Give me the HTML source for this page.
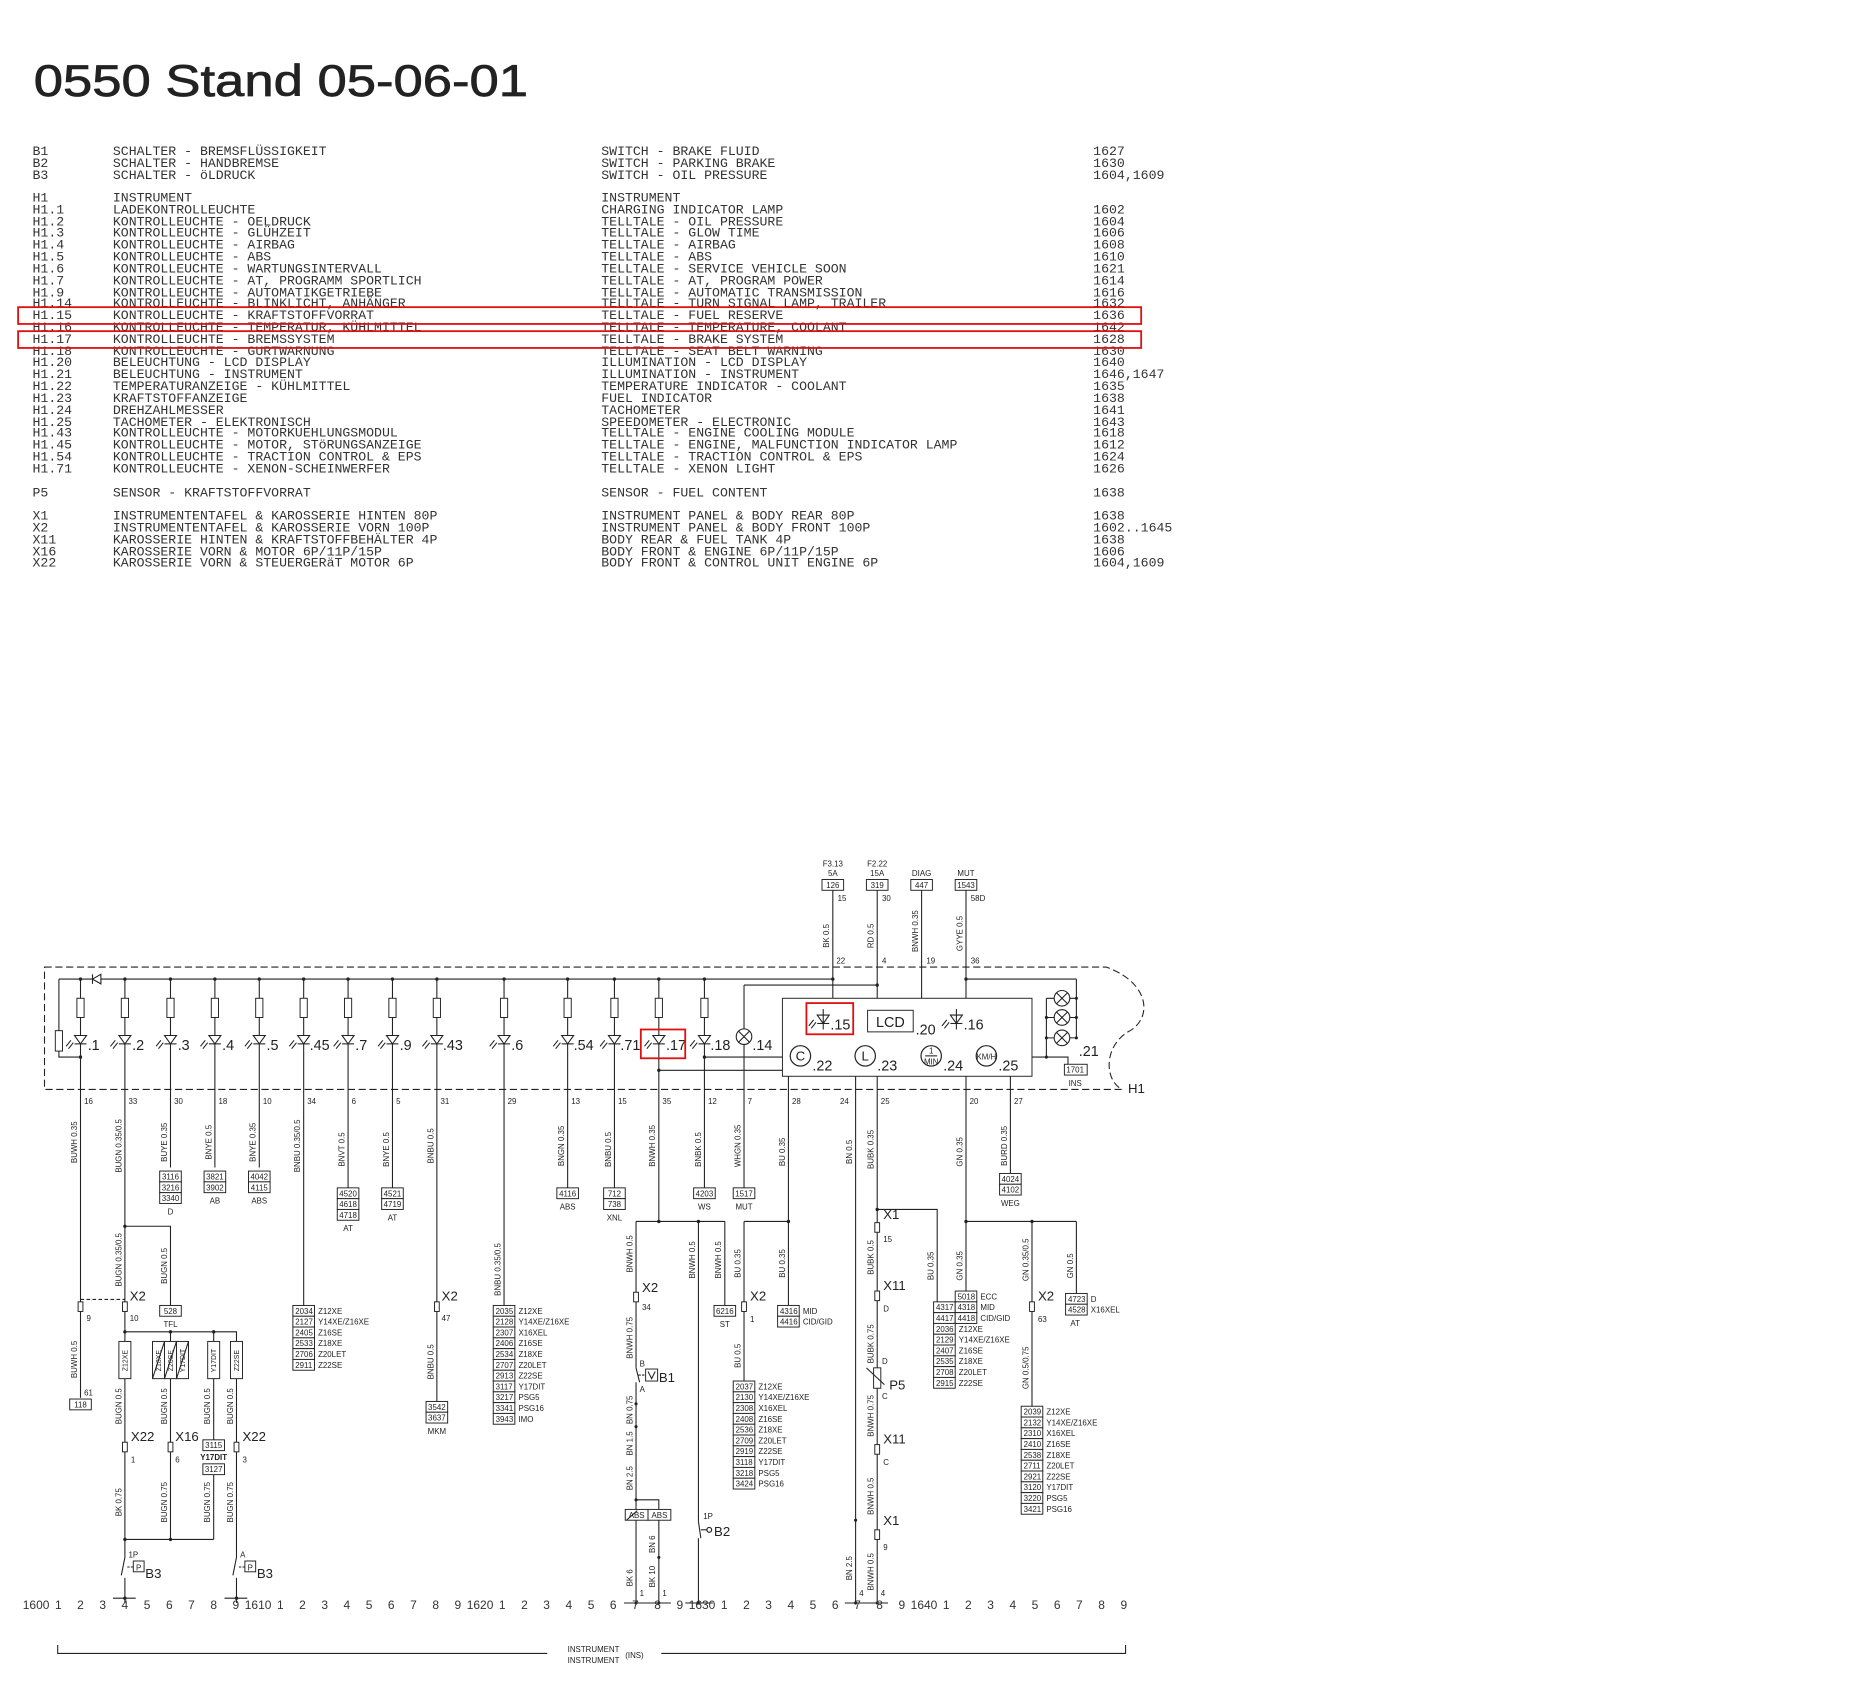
<!DOCTYPE html>
<html><head><meta charset="utf-8"><style>
html,body{margin:0;padding:0;background:#fff}
svg{display:block}
.t{font-family:"Liberation Mono",monospace;font-size:11px;fill:#333}
.d{font-family:"Liberation Sans",sans-serif;fill:#222}
.s{font-size:6.6px}
.m{font-size:11px}
.l{font-size:12px}
.v{font-size:6.6px;text-anchor:middle}
line,polyline,path{stroke:#222;stroke-width:0.9;fill:none}
rect.b{fill:#fff;stroke:#222;stroke-width:0.8}
</style></head><body>
<svg width="1872" height="1693" viewBox="0 0 1560 1411" xmlns="http://www.w3.org/2000/svg">
<defs>
<g id="led"><polygon points="-5,-4 5,-4 0,3" fill="#fff" stroke="#222" stroke-width="0.9"/><line x1="-5" y1="3" x2="5" y2="3"/><line x1="-12" y1="5" x2="-8" y2="0"/><line x1="-10" y1="7" x2="-6" y2="2"/></g>
<g id="lamp"><circle cx="0" cy="0" r="6.5" fill="#fff" stroke="#222" stroke-width="0.9"/><line x1="-4.6" y1="-4.6" x2="4.6" y2="4.6"/><line x1="-4.6" y1="4.6" x2="4.6" y2="-4.6"/></g>
<g id="con"><rect x="-2" y="-5" width="4" height="8" fill="#fff" stroke="#222" stroke-width="0.8"/></g>
</defs>

<text x="28" y="80" class="d" style="font-size:37px;stroke:#222;stroke-width:0.6" textLength="412" lengthAdjust="spacingAndGlyphs">0550 Stand 05-06-01</text>

<g class="t">
<text x="27" y="129">B1</text><text x="94" y="129">SCHALTER - BREMSFLÜSSIGKEIT</text><text x="501" y="129">SWITCH - BRAKE FLUID</text><text x="911" y="129">1627</text>
<text x="27" y="139">B2</text><text x="94" y="139">SCHALTER - HANDBREMSE</text><text x="501" y="139">SWITCH - PARKING BRAKE</text><text x="911" y="139">1630</text>
<text x="27" y="149">B3</text><text x="94" y="149">SCHALTER - öLDRUCK</text><text x="501" y="149">SWITCH - OIL PRESSURE</text><text x="911" y="149">1604,1609</text>
<text x="27" y="168">H1</text><text x="94" y="168">INSTRUMENT</text><text x="501" y="168">INSTRUMENT</text>
<text x="27" y="178">H1.1</text><text x="94" y="178">LADEKONTROLLEUCHTE</text><text x="501" y="178">CHARGING INDICATOR LAMP</text><text x="911" y="178">1602</text>
<text x="27" y="188">H1.2</text><text x="94" y="188">KONTROLLEUCHTE - OELDRUCK</text><text x="501" y="188">TELLTALE - OIL PRESSURE</text><text x="911" y="188">1604</text>
<text x="27" y="197">H1.3</text><text x="94" y="197">KONTROLLEUCHTE - GLÜHZEIT</text><text x="501" y="197">TELLTALE - GLOW TIME</text><text x="911" y="197">1606</text>
<text x="27" y="207">H1.4</text><text x="94" y="207">KONTROLLEUCHTE - AIRBAG</text><text x="501" y="207">TELLTALE - AIRBAG</text><text x="911" y="207">1608</text>
<text x="27" y="217">H1.5</text><text x="94" y="217">KONTROLLEUCHTE - ABS</text><text x="501" y="217">TELLTALE - ABS</text><text x="911" y="217">1610</text>
<text x="27" y="227">H1.6</text><text x="94" y="227">KONTROLLEUCHTE - WARTUNGSINTERVALL</text><text x="501" y="227">TELLTALE - SERVICE VEHICLE SOON</text><text x="911" y="227">1621</text>
<text x="27" y="237">H1.7</text><text x="94" y="237">KONTROLLEUCHTE - AT, PROGRAMM SPORTLICH</text><text x="501" y="237">TELLTALE - AT, PROGRAM POWER</text><text x="911" y="237">1614</text>
<text x="27" y="247">H1.9</text><text x="94" y="247">KONTROLLEUCHTE - AUTOMATIKGETRIEBE</text><text x="501" y="247">TELLTALE - AUTOMATIC TRANSMISSION</text><text x="911" y="247">1616</text>
<text x="27" y="256">H1.14</text><text x="94" y="256">KONTROLLEUCHTE - BLINKLICHT, ANHÄNGER</text><text x="501" y="256">TELLTALE - TURN SIGNAL LAMP, TRAILER</text><text x="911" y="256">1632</text>
<text x="27" y="266">H1.15</text><text x="94" y="266">KONTROLLEUCHTE - KRAFTSTOFFVORRAT</text><text x="501" y="266">TELLTALE - FUEL RESERVE</text><text x="911" y="266">1636</text>
<text x="27" y="276">H1.16</text><text x="94" y="276">KONTROLLEUCHTE - TEMPERATUR, KÜHLMITTEL</text><text x="501" y="276">TELLTALE - TEMPERATURE, COOLANT</text><text x="911" y="276">1642</text>
<text x="27" y="286">H1.17</text><text x="94" y="286">KONTROLLEUCHTE - BREMSSYSTEM</text><text x="501" y="286">TELLTALE - BRAKE SYSTEM</text><text x="911" y="286">1628</text>
<text x="27" y="296">H1.18</text><text x="94" y="296">KONTROLLEUCHTE - GURTWARNUNG</text><text x="501" y="296">TELLTALE - SEAT BELT WARNING</text><text x="911" y="296">1630</text>
<text x="27" y="305">H1.20</text><text x="94" y="305">BELEUCHTUNG - LCD DISPLAY</text><text x="501" y="305">ILLUMINATION - LCD DISPLAY</text><text x="911" y="305">1640</text>
<text x="27" y="315">H1.21</text><text x="94" y="315">BELEUCHTUNG - INSTRUMENT</text><text x="501" y="315">ILLUMINATION - INSTRUMENT</text><text x="911" y="315">1646,1647</text>
<text x="27" y="325">H1.22</text><text x="94" y="325">TEMPERATURANZEIGE - KÜHLMITTEL</text><text x="501" y="325">TEMPERATURE INDICATOR - COOLANT</text><text x="911" y="325">1635</text>
<text x="27" y="335">H1.23</text><text x="94" y="335">KRAFTSTOFFANZEIGE</text><text x="501" y="335">FUEL INDICATOR</text><text x="911" y="335">1638</text>
<text x="27" y="345">H1.24</text><text x="94" y="345">DREHZAHLMESSER</text><text x="501" y="345">TACHOMETER</text><text x="911" y="345">1641</text>
<text x="27" y="355">H1.25</text><text x="94" y="355">TACHOMETER - ELEKTRONISCH</text><text x="501" y="355">SPEEDOMETER - ELECTRONIC</text><text x="911" y="355">1643</text>
<text x="27" y="364">H1.43</text><text x="94" y="364">KONTROLLEUCHTE - MOTORKUEHLUNGSMODUL</text><text x="501" y="364">TELLTALE - ENGINE COOLING MODULE</text><text x="911" y="364">1618</text>
<text x="27" y="374">H1.45</text><text x="94" y="374">KONTROLLEUCHTE - MOTOR, STöRUNGSANZEIGE</text><text x="501" y="374">TELLTALE - ENGINE, MALFUNCTION INDICATOR LAMP</text><text x="911" y="374">1612</text>
<text x="27" y="384">H1.54</text><text x="94" y="384">KONTROLLEUCHTE - TRACTION CONTROL &amp; EPS</text><text x="501" y="384">TELLTALE - TRACTION CONTROL &amp; EPS</text><text x="911" y="384">1624</text>
<text x="27" y="394">H1.71</text><text x="94" y="394">KONTROLLEUCHTE - XENON-SCHEINWERFER</text><text x="501" y="394">TELLTALE - XENON LIGHT</text><text x="911" y="394">1626</text>
<text x="27" y="414">P5</text><text x="94" y="414">SENSOR - KRAFTSTOFFVORRAT</text><text x="501" y="414">SENSOR - FUEL CONTENT</text><text x="911" y="414">1638</text>
<text x="27" y="433">X1</text><text x="94" y="433">INSTRUMENTENTAFEL &amp; KAROSSERIE HINTEN 80P</text><text x="501" y="433">INSTRUMENT PANEL &amp; BODY REAR 80P</text><text x="911" y="433">1638</text>
<text x="27" y="443">X2</text><text x="94" y="443">INSTRUMENTENTAFEL &amp; KAROSSERIE VORN 100P</text><text x="501" y="443">INSTRUMENT PANEL &amp; BODY FRONT 100P</text><text x="911" y="443">1602..1645</text>
<text x="27" y="453">X11</text><text x="94" y="453">KAROSSERIE HINTEN &amp; KRAFTSTOFFBEHÄLTER 4P</text><text x="501" y="453">BODY REAR &amp; FUEL TANK 4P</text><text x="911" y="453">1638</text>
<text x="27" y="463">X16</text><text x="94" y="463">KAROSSERIE VORN &amp; MOTOR  6P/11P/15P</text><text x="501" y="463">BODY FRONT &amp; ENGINE 6P/11P/15P</text><text x="911" y="463">1606</text>
<text x="27" y="472">X22</text><text x="94" y="472">KAROSSERIE VORN &amp; STEUERGERäT MOTOR 6P</text><text x="501" y="472">BODY FRONT &amp; CONTROL UNIT ENGINE 6P</text><text x="911" y="472">1604,1609</text>
</g>
<rect x="15" y="256" width="936" height="14" fill="none" stroke="#e01010" stroke-width="1.5"/>
<rect x="15" y="276" width="936" height="14" fill="none" stroke="#e01010" stroke-width="1.5"/>

<g class="d">
<path d="M37,806 L922,806 C960,820 960,850 940,860 C920,872 920,900 935,908 L37,908 Z" style="stroke-dasharray:6,3"/>
<text x="940" y="911" class="m">H1</text>

<line x1="49" y1="816" x2="694" y2="816"/>
<line x1="805" y1="816" x2="897" y2="816"/>
<line x1="620" y1="821" x2="731" y2="821"/>
<polygon points="77,816 84,812 84,820" fill="#fff" stroke="#222" stroke-width="0.9"/><line x1="77" y1="812" x2="77" y2="820"/>
<line x1="49" y1="816" x2="49" y2="859"/><rect class="b" x="46" y="859" width="6" height="17"/><polyline points="49,876 49,881 67,881"/><circle cx="67" cy="881" r="1.4" fill="#222"/>

<g>
<line x1="67" y1="816" x2="67" y2="1165"/>
<line x1="104" y1="816" x2="104" y2="1336"/>
<line x1="142" y1="816" x2="142" y2="973"/>
<line x1="179" y1="816" x2="179" y2="973"/>
<line x1="216" y1="816" x2="216" y2="973"/>
<line x1="253" y1="816" x2="253" y2="1088"/>
<line x1="290" y1="816" x2="290" y2="990"/>
<line x1="327" y1="816" x2="327" y2="990"/>
<line x1="364" y1="816" x2="364" y2="1168"/>
<line x1="420" y1="816" x2="420" y2="1088"/>
<line x1="473" y1="816" x2="473" y2="990"/>
<line x1="512" y1="816" x2="512" y2="990"/>
<line x1="549" y1="816" x2="549" y2="1018"/>
<line x1="587" y1="816" x2="587" y2="990"/>
<line x1="620" y1="821" x2="620" y2="990"/>
</g>
<g fill="#222">
<circle cx="67" cy="816" r="1.4"/><circle cx="104" cy="816" r="1.4"/><circle cx="142" cy="816" r="1.4"/><circle cx="179" cy="816" r="1.4"/><circle cx="216" cy="816" r="1.4"/><circle cx="253" cy="816" r="1.4"/><circle cx="290" cy="816" r="1.4"/><circle cx="327" cy="816" r="1.4"/><circle cx="364" cy="816" r="1.4"/><circle cx="420" cy="816" r="1.4"/><circle cx="473" cy="816" r="1.4"/><circle cx="512" cy="816" r="1.4"/><circle cx="549" cy="816" r="1.4"/><circle cx="587" cy="816" r="1.4"/><circle cx="694" cy="816" r="1.4"/><circle cx="805" cy="816" r="1.4"/><circle cx="731" cy="821" r="1.4"/>
</g>
<g>
<rect class="b" x="64" y="832" width="6" height="16"/><rect class="b" x="101" y="832" width="6" height="16"/><rect class="b" x="139" y="832" width="6" height="16"/><rect class="b" x="176" y="832" width="6" height="16"/><rect class="b" x="213" y="832" width="6" height="16"/><rect class="b" x="250" y="832" width="6" height="16"/><rect class="b" x="287" y="832" width="6" height="16"/><rect class="b" x="324" y="832" width="6" height="16"/><rect class="b" x="361" y="832" width="6" height="16"/><rect class="b" x="417" y="832" width="6" height="16"/><rect class="b" x="470" y="832" width="6" height="16"/><rect class="b" x="509" y="832" width="6" height="16"/><rect class="b" x="546" y="832" width="6" height="16"/><rect class="b" x="584" y="832" width="6" height="16"/>
</g>
<use href="#led" x="67" y="867"/><use href="#led" x="104" y="867"/><use href="#led" x="142" y="867"/><use href="#led" x="179" y="867"/><use href="#led" x="216" y="867"/><use href="#led" x="253" y="867"/><use href="#led" x="290" y="867"/><use href="#led" x="327" y="867"/><use href="#led" x="364" y="867"/><use href="#led" x="420" y="867"/><use href="#led" x="473" y="867"/><use href="#led" x="512" y="867"/><use href="#led" x="549" y="867"/><use href="#led" x="587" y="867"/>
<use href="#lamp" x="620" y="864"/>
<g class="l">
<text x="73" y="875">.1</text><text x="110" y="875">.2</text><text x="148" y="875">.3</text><text x="185" y="875">.4</text><text x="222" y="875">.5</text><text x="258" y="875">.45</text><text x="296" y="875">.7</text><text x="333" y="875">.9</text><text x="369" y="875">.43</text><text x="426" y="875">.6</text><text x="478" y="875">.54</text><text x="517" y="875">.71</text><text x="555" y="875">.17</text><text x="592" y="875">.18</text><text x="627" y="875">.14</text>
</g>
<rect x="534" y="858" width="37" height="24" fill="none" stroke="#e01010" stroke-width="1.5"/>
<line x1="587" y1="881" x2="652" y2="881"/><circle cx="587" cy="881" r="1.4" fill="#222"/>
<line x1="549" y1="892" x2="652" y2="892"/><circle cx="549" cy="892" r="1.4" fill="#222"/>

<g class="s">
<text x="70" y="920">16</text><text x="107" y="920">33</text><text x="145" y="920">30</text><text x="182" y="920">18</text><text x="219" y="920">10</text><text x="256" y="920">34</text><text x="293" y="920">6</text><text x="330" y="920">5</text><text x="367" y="920">31</text><text x="423" y="920">29</text><text x="476" y="920">13</text><text x="515" y="920">15</text><text x="552" y="920">35</text><text x="590" y="920">12</text><text x="623" y="920">7</text><text x="660" y="920">28</text><text x="700" y="920">24</text><text x="734" y="920">25</text><text x="808" y="920">20</text><text x="845" y="920">27</text>
</g>

<rect class="b" x="652" y="832" width="208" height="65"/>
<line x1="694" y1="742" x2="694" y2="832"/><line x1="731" y1="742" x2="731" y2="832"/><line x1="768" y1="742" x2="768" y2="832"/><line x1="805" y1="742" x2="805" y2="832"/>
<g class="s">
<rect class="b" x="685" y="733" width="18" height="9"/><text x="694" y="740" text-anchor="middle">126</text>
<rect class="b" x="722" y="733" width="18" height="9"/><text x="731" y="740" text-anchor="middle">319</text>
<rect class="b" x="759" y="733" width="18" height="9"/><text x="768" y="740" text-anchor="middle">447</text>
<rect class="b" x="796" y="733" width="18" height="9"/><text x="805" y="740" text-anchor="middle">1543</text>
<text x="694" y="722" text-anchor="middle">F3.13</text><text x="694" y="730" text-anchor="middle">5A</text>
<text x="731" y="722" text-anchor="middle">F2.22</text><text x="731" y="730" text-anchor="middle">15A</text>
<text x="768" y="730" text-anchor="middle">DIAG</text><text x="805" y="730" text-anchor="middle">MUT</text>
<text x="698" y="751">15</text><text x="735" y="751">30</text><text x="809" y="751">58D</text>
<text x="697" y="803">22</text><text x="735" y="803">4</text><text x="772" y="803">19</text><text x="809" y="803">36</text>
</g>
<g class="v">
<text transform="translate(691,780) rotate(-90)">BK 0.5</text>
<text transform="translate(728,780) rotate(-90)">RD 0.5</text>
<text transform="translate(765,776) rotate(-90)">BNWH 0.35</text>
<text transform="translate(802,778) rotate(-90)">GYYE 0.5</text>
</g>
<use href="#led" x="686" y="850"/><text x="692" y="858" class="l">.15</text>
<rect x="672" y="836" width="39" height="26" fill="none" stroke="#e01010" stroke-width="1.5"/>
<rect class="b" x="723" y="842" width="38" height="18"/><text x="742" y="856" class="l" text-anchor="middle">LCD</text><text x="763" y="862" class="l">.20</text>
<use href="#led" x="797" y="850"/><text x="803" y="858" class="l">.16</text>
<line x1="797" y1="841" x2="797" y2="858"/><line x1="686" y1="841" x2="686" y2="858"/>
<circle cx="667" cy="880" r="8.5" fill="#fff" stroke="#222"/><text x="667" y="884" class="m" text-anchor="middle">C</text><text x="677" y="892" class="l">.22</text>
<circle cx="721" cy="880" r="8.5" fill="#fff" stroke="#222"/><text x="721" y="884" class="m" text-anchor="middle">L</text><text x="731" y="892" class="l">.23</text>
<circle cx="776" cy="880" r="8.5" fill="#fff" stroke="#222"/><text x="776" y="878" class="s" text-anchor="middle">1</text><line x1="771" y1="880" x2="781" y2="880"/><text x="776" y="887" class="s" text-anchor="middle">MIN</text><text x="786" y="892" class="l">.24</text>
<circle cx="822" cy="880" r="8.5" fill="#fff" stroke="#222"/><text x="822" y="883" class="s" text-anchor="middle">KM/H</text><text x="832" y="892" class="l">.25</text>
<line x1="897" y1="816" x2="897" y2="865"/><line x1="872" y1="832" x2="872" y2="881"/>
<line x1="872" y1="832" x2="897" y2="832"/><line x1="872" y1="848" x2="897" y2="848"/><line x1="872" y1="865" x2="897" y2="865"/>
<use href="#lamp" x="885" y="832"/><use href="#lamp" x="885" y="848"/><use href="#lamp" x="885" y="865"/>
<g fill="#222"><circle cx="897" cy="832" r="1.3"/><circle cx="897" cy="848" r="1.3"/><circle cx="897" cy="865" r="1.3"/><circle cx="872" cy="848" r="1.3"/><circle cx="872" cy="865" r="1.3"/><circle cx="872" cy="881" r="1.3"/></g>
<polyline points="860,881 890,881 890,887"/>
<text x="899" y="880" class="l">.21</text>
<rect class="b" x="887" y="887" width="19" height="9"/><text x="896" y="894" class="s" text-anchor="middle">1701</text><text x="896" y="905" class="s" text-anchor="middle">INS</text>

<line x1="657" y1="897" x2="657" y2="1088"/>
<line x1="713" y1="897" x2="713" y2="1336"/>
<line x1="731" y1="897" x2="731" y2="1336"/>
<line x1="805" y1="897" x2="805" y2="1076"/>
<line x1="842" y1="897" x2="842" y2="978"/>

<g class="v">
<text transform="translate(64,952) rotate(-90)">BUWH 0.35</text>
<text transform="translate(101,955) rotate(-90)">BUGN 0.35/0.5</text>
<text transform="translate(139,952) rotate(-90)">BUYE 0.35</text>
<text transform="translate(176,952) rotate(-90)">BNYE 0.5</text>
<text transform="translate(213,952) rotate(-90)">BNYE 0.35</text>
<text transform="translate(250,955) rotate(-90)">BNBU 0.35/0.5</text>
<text transform="translate(287,958) rotate(-90)">BNVT 0.5</text>
<text transform="translate(324,958) rotate(-90)">BNYE 0.5</text>
<text transform="translate(361,955) rotate(-90)">BNBU 0.5</text>
<text transform="translate(470,955) rotate(-90)">BNGN 0.35</text>
<text transform="translate(509,958) rotate(-90)">BNBU 0.5</text>
<text transform="translate(546,955) rotate(-90)">BNWH 0.35</text>
<text transform="translate(584,958) rotate(-90)">BNBK 0.5</text>
<text transform="translate(617,955) rotate(-90)">WHGN 0.35</text>
<text transform="translate(654,960) rotate(-90)">BU 0.35</text>
<text transform="translate(710,960) rotate(-90)">BN 0.5</text>
<text transform="translate(728,958) rotate(-90)">BUBK 0.35</text>
<text transform="translate(802,960) rotate(-90)">GN 0.35</text>
<text transform="translate(839,955) rotate(-90)">BURD 0.35</text>
</g>

<g class="s" text-anchor="middle">
<rect class="b" x="133" y="976" width="18" height="9"/><text x="142" y="983">3116</text>
<rect class="b" x="133" y="985" width="18" height="9"/><text x="142" y="992">3216</text>
<rect class="b" x="133" y="994" width="18" height="9"/><text x="142" y="1001">3340</text><text x="142" y="1012">D</text>
<rect class="b" x="170" y="976" width="18" height="9"/><text x="179" y="983">3821</text>
<rect class="b" x="170" y="985" width="18" height="9"/><text x="179" y="992">3902</text><text x="179" y="1003">AB</text>
<rect class="b" x="207" y="976" width="18" height="9"/><text x="216" y="983">4042</text>
<rect class="b" x="207" y="985" width="18" height="9"/><text x="216" y="992">4115</text><text x="216" y="1003">ABS</text>
<rect class="b" x="281" y="990" width="18" height="9"/><text x="290" y="997">4520</text>
<rect class="b" x="281" y="999" width="18" height="9"/><text x="290" y="1006">4618</text>
<rect class="b" x="281" y="1008" width="18" height="9"/><text x="290" y="1015">4718</text><text x="290" y="1026">AT</text>
<rect class="b" x="318" y="990" width="18" height="9"/><text x="327" y="997">4521</text>
<rect class="b" x="318" y="999" width="18" height="9"/><text x="327" y="1006">4719</text><text x="327" y="1017">AT</text>
<rect class="b" x="464" y="990" width="18" height="9"/><text x="473" y="997">4116</text><text x="473" y="1008">ABS</text>
<rect class="b" x="503" y="990" width="18" height="9"/><text x="512" y="997">712</text>
<rect class="b" x="503" y="999" width="18" height="9"/><text x="512" y="1006">738</text><text x="512" y="1017">XNL</text>
<rect class="b" x="578" y="990" width="18" height="9"/><text x="587" y="997">4203</text><text x="587" y="1008">WS</text>
<rect class="b" x="611" y="990" width="18" height="9"/><text x="620" y="997">1517</text><text x="620" y="1008">MUT</text>
<rect class="b" x="833" y="978" width="18" height="9"/><text x="842" y="985">4024</text>
<rect class="b" x="833" y="987" width="18" height="9"/><text x="842" y="994">4102</text><text x="842" y="1005">WEG</text>
</g>

<polyline points="104,1022 142,1022 142,1088"/><circle cx="104" cy="1022" r="1.4" fill="#222"/>
<g class="v">
<text transform="translate(101,1050) rotate(-90)">BUGN 0.35/0.5</text>
<text transform="translate(139,1055) rotate(-90)">BUGN 0.5</text>
<text transform="translate(64,1133) rotate(-90)">BUWH 0.5</text>
<text transform="translate(361,1135) rotate(-90)">BNBU 0.5</text>
<text transform="translate(417,1058) rotate(-90)">BNBU 0.35/0.5</text>
</g>
<line x1="67" y1="1083" x2="104" y2="1083" style="stroke-dasharray:3,2"/>
<use href="#con" x="67" y="1090"/><use href="#con" x="104" y="1090"/><use href="#con" x="364" y="1090"/>
<text x="108" y="1084" class="m">X2</text><text x="368" y="1084" class="m">X2</text>
<g class="s"><text x="72" y="1101">9</text><text x="108" y="1101">10</text><text x="368" y="1101">47</text><text x="70" y="1163">61</text></g>
<g class="s" text-anchor="middle">
<rect class="b" x="133" y="1088" width="18" height="9"/><text x="142" y="1095">528</text><text x="142" y="1106">TFL</text>
<rect class="b" x="58" y="1166" width="18" height="9"/><text x="67" y="1173">118</text>
<rect class="b" x="355" y="1168" width="18" height="9"/><text x="364" y="1175">3542</text>
<rect class="b" x="355" y="1177" width="18" height="9"/><text x="364" y="1184">3637</text><text x="364" y="1195">MKM</text>
</g>
<g class="s">
<rect class="b" x="244" y="1088" width="18" height="9"/><text x="246" y="1095">2034</text><text x="265" y="1095">Z12XE</text>
<rect class="b" x="244" y="1097" width="18" height="9"/><text x="246" y="1104">2127</text><text x="265" y="1104">Y14XE/Z16XE</text>
<rect class="b" x="244" y="1106" width="18" height="9"/><text x="246" y="1113">2405</text><text x="265" y="1113">Z16SE</text>
<rect class="b" x="244" y="1115" width="18" height="9"/><text x="246" y="1122">2533</text><text x="265" y="1122">Z18XE</text>
<rect class="b" x="244" y="1124" width="18" height="9"/><text x="246" y="1131">2706</text><text x="265" y="1131">Z20LET</text>
<rect class="b" x="244" y="1133" width="18" height="9"/><text x="246" y="1140">2911</text><text x="265" y="1140">Z22SE</text>

<rect class="b" x="411" y="1088" width="18" height="9"/><text x="413" y="1095">2035</text><text x="432" y="1095">Z12XE</text>
<rect class="b" x="411" y="1097" width="18" height="9"/><text x="413" y="1104">2128</text><text x="432" y="1104">Y14XE/Z16XE</text>
<rect class="b" x="411" y="1106" width="18" height="9"/><text x="413" y="1113">2307</text><text x="432" y="1113">X16XEL</text>
<rect class="b" x="411" y="1115" width="18" height="9"/><text x="413" y="1122">2406</text><text x="432" y="1122">Z16SE</text>
<rect class="b" x="411" y="1124" width="18" height="9"/><text x="413" y="1131">2534</text><text x="432" y="1131">Z18XE</text>
<rect class="b" x="411" y="1133" width="18" height="9"/><text x="413" y="1140">2707</text><text x="432" y="1140">Z20LET</text>
<rect class="b" x="411" y="1142" width="18" height="9"/><text x="413" y="1149">2913</text><text x="432" y="1149">Z22SE</text>
<rect class="b" x="411" y="1151" width="18" height="9"/><text x="413" y="1158">3117</text><text x="432" y="1158">Y17DIT</text>
<rect class="b" x="411" y="1160" width="18" height="9"/><text x="413" y="1167">3217</text><text x="432" y="1167">PSG5</text>
<rect class="b" x="411" y="1169" width="18" height="9"/><text x="413" y="1176">3341</text><text x="432" y="1176">PSG16</text>
<rect class="b" x="411" y="1178" width="18" height="9"/><text x="413" y="1185">3943</text><text x="432" y="1185">IMO</text>
</g>

<polyline points="104,1110 197,1110 197,1118"/>
<line x1="142" y1="1110" x2="142" y2="1283"/><line x1="178" y1="1110" x2="178" y2="1200"/>
<line x1="197" y1="1149" x2="197" y2="1336"/>
<g fill="#222"><circle cx="104" cy="1110" r="1.4"/><circle cx="142" cy="1110" r="1.4"/><circle cx="178" cy="1110" r="1.4"/><circle cx="104" cy="1283" r="1.4"/><circle cx="142" cy="1283" r="1.4"/></g>
<rect class="b" x="99" y="1118" width="10" height="31"/>
<rect class="b" x="127" y="1118" width="10" height="31"/><rect class="b" x="137" y="1118" width="10" height="31"/><rect class="b" x="147" y="1118" width="10" height="31"/>
<line x1="127" y1="1149" x2="137" y2="1118"/><line x1="137" y1="1149" x2="147" y2="1118"/><line x1="147" y1="1149" x2="157" y2="1118"/>
<rect class="b" x="173" y="1118" width="10" height="31"/><rect class="b" x="192" y="1118" width="10" height="31"/>
<g class="v" style="font-size:5.8px">
<text transform="translate(106,1134) rotate(-90)">Z12XE</text>
<text transform="translate(134,1134) rotate(-90)">Z18XE</text><text transform="translate(144,1134) rotate(-90)">Z20SE</text><text transform="translate(154,1134) rotate(-90)">Y17DIT</text>
<text transform="translate(180,1134) rotate(-90)">Y17DIT</text><text transform="translate(199,1134) rotate(-90)">Z22SE</text>
</g>
<g class="v">
<text transform="translate(101,1172) rotate(-90)">BUGN 0.5</text><text transform="translate(139,1172) rotate(-90)">BUGN 0.5</text><text transform="translate(175,1172) rotate(-90)">BUGN 0.5</text><text transform="translate(194,1172) rotate(-90)">BUGN 0.5</text>
<text transform="translate(101,1252) rotate(-90)">BK 0.75</text><text transform="translate(139,1252) rotate(-90)">BUGN 0.75</text><text transform="translate(175,1252) rotate(-90)">BUGN 0.75</text><text transform="translate(194,1252) rotate(-90)">BUGN 0.75</text>
</g>
<use href="#con" x="104" y="1207"/><use href="#con" x="142" y="1207"/><use href="#con" x="197" y="1207"/>
<text x="109" y="1201" class="m">X22</text><text x="146" y="1201" class="m">X16</text><text x="202" y="1201" class="m">X22</text>
<g class="s"><text x="109" y="1219">1</text><text x="146" y="1219">6</text><text x="202" y="1219">3</text></g>
<g class="s" text-anchor="middle">
<rect class="b" x="169" y="1200" width="18" height="9"/><text x="178" y="1207">3115</text><text x="178" y="1217" style="font-weight:bold">Y17DIT</text>
<rect class="b" x="169" y="1220" width="18" height="9"/><text x="178" y="1227">3127</text>
</g>
<line x1="178" y1="1229" x2="178" y2="1283"/><line x1="104" y1="1283" x2="178" y2="1283"/>
<rect x="100" y="1298" width="8" height="17" fill="#fff"/><line x1="104" y1="1298" x2="101" y2="1313"/>
<rect x="193" y="1298" width="8" height="17" fill="#fff"/><line x1="197" y1="1298" x2="194" y2="1313"/>
<line x1="106" y1="1306" x2="111" y2="1306" style="stroke-dasharray:2,1"/><rect class="b" x="111" y="1301" width="9" height="9"/><text x="115.5" y="1309" class="s" text-anchor="middle">P</text>
<line x1="199" y1="1306" x2="204" y2="1306" style="stroke-dasharray:2,1"/><rect class="b" x="204" y="1301" width="9" height="9"/><text x="208.5" y="1309" class="s" text-anchor="middle">P</text>
<text x="121" y="1315" class="m">B3</text><text x="214" y="1315" class="m">B3</text>
<text x="107" y="1298" class="s">1P</text><text x="200" y="1298" class="s">A</text>
<line x1="94" y1="1332" x2="113" y2="1332"/><line x1="187" y1="1332" x2="206" y2="1332"/>
<circle cx="104" cy="1332" r="1.4" fill="#222"/><circle cx="197" cy="1332" r="1.4" fill="#222"/>

<line x1="530" y1="1018" x2="604" y2="1018"/><circle cx="549" cy="1018" r="1.4" fill="#222"/><circle cx="582" cy="1018" r="1.4" fill="#222"/>
<line x1="530" y1="1018" x2="530" y2="1140"/><line x1="530" y1="1152" x2="530" y2="1336"/>
<line x1="582" y1="1018" x2="582" y2="1268"/><line x1="582" y1="1282" x2="582" y2="1336"/>
<line x1="604" y1="1018" x2="604" y2="1088"/>
<line x1="620" y1="1018" x2="657" y2="1018"/><circle cx="657" cy="1018" r="1.4" fill="#222"/>
<line x1="620" y1="1018" x2="620" y2="1151"/>
<g class="v">
<text transform="translate(527,1045) rotate(-90)">BNWH 0.5</text>
<text transform="translate(579,1050) rotate(-90)">BNWH 0.5</text>
<text transform="translate(601,1050) rotate(-90)">BNWH 0.5</text>
<text transform="translate(617,1053) rotate(-90)">BU 0.35</text>
<text transform="translate(654,1053) rotate(-90)">BU 0.35</text>
<text transform="translate(527,1115) rotate(-90)">BNWH 0.75</text>
<text transform="translate(617,1130) rotate(-90)">BU 0.5</text>
<text transform="translate(527,1175) rotate(-90)">BN 0.75</text>
<text transform="translate(527,1203) rotate(-90)">BN 1.5</text>
<text transform="translate(527,1232) rotate(-90)">BN 2.5</text>
<text transform="translate(527,1315) rotate(-90)">BK 6</text>
<text transform="translate(546,1287) rotate(-90)">BN 6</text>
<text transform="translate(546,1314) rotate(-90)">BK 10</text>
</g>
<use href="#con" x="530" y="1082"/><text x="535" y="1077" class="m">X2</text><text x="535" y="1092" class="s">34</text>
<use href="#con" x="620" y="1090"/><text x="625" y="1084" class="m">X2</text><text x="625" y="1102" class="s">1</text>
<line x1="530" y1="1140" x2="533" y2="1152"/><line x1="532" y1="1146" x2="537" y2="1146" style="stroke-dasharray:2,1"/>
<rect class="b" x="538" y="1141" width="10" height="10"/><polyline points="540,1143 543,1149 546,1143"/>
<text x="549" y="1152" class="m">B1</text><text x="533" y="1139" class="s">B</text><text x="533" y="1160" class="s">A</text>
<g fill="#222"><circle cx="530" cy="1170" r="1.3"/><circle cx="530" cy="1189" r="1.3"/><circle cx="530" cy="1250" r="1.3"/><circle cx="549" cy="1298" r="1.3"/></g>
<polyline points="530,1250 549,1250 549,1336"/>
<rect class="b" x="521" y="1258" width="19" height="9"/><rect class="b" x="540" y="1258" width="19" height="9"/>
<text x="530.5" y="1265" class="s" text-anchor="middle">ABS</text><text x="549.5" y="1265" class="s" text-anchor="middle">ABS</text><line x1="522" y1="1267" x2="531" y2="1259"/>
<g class="s"><text x="533" y="1330">1</text><text x="552" y="1330">1</text></g>
<line x1="520" y1="1336" x2="559" y2="1336"/><circle cx="530" cy="1336" r="1.3" fill="#222"/><circle cx="549" cy="1336" r="1.3" fill="#222"/>
<line x1="582" y1="1268" x2="584" y2="1282"/><line x1="584" y1="1275" x2="589" y2="1275"/><circle cx="591" cy="1275" r="2" fill="#fff" stroke="#222"/>
<text x="595" y="1280" class="m">B2</text><text x="586" y="1266" class="s">1P</text>
<line x1="571" y1="1336" x2="594" y2="1336"/><circle cx="582" cy="1336" r="1.3" fill="#222"/>
<g class="s" text-anchor="middle">
<rect class="b" x="595" y="1088" width="18" height="9"/><text x="604" y="1095">6216</text><text x="604" y="1106">ST</text>
</g>
<g class="s">
<rect class="b" x="648" y="1088" width="18" height="9"/><text x="650" y="1095">4316</text><text x="669" y="1095">MID</text>
<rect class="b" x="648" y="1097" width="18" height="9"/><text x="650" y="1104">4416</text><text x="669" y="1104">CID/GID</text>
<rect class="b" x="611" y="1151" width="18" height="9"/><text x="613" y="1158">2037</text><text x="632" y="1158">Z12XE</text>
<rect class="b" x="611" y="1160" width="18" height="9"/><text x="613" y="1167">2130</text><text x="632" y="1167">Y14XE/Z16XE</text>
<rect class="b" x="611" y="1169" width="18" height="9"/><text x="613" y="1176">2308</text><text x="632" y="1176">X16XEL</text>
<rect class="b" x="611" y="1178" width="18" height="9"/><text x="613" y="1185">2408</text><text x="632" y="1185">Z16SE</text>
<rect class="b" x="611" y="1187" width="18" height="9"/><text x="613" y="1194">2536</text><text x="632" y="1194">Z18XE</text>
<rect class="b" x="611" y="1196" width="18" height="9"/><text x="613" y="1203">2709</text><text x="632" y="1203">Z20LET</text>
<rect class="b" x="611" y="1205" width="18" height="9"/><text x="613" y="1212">2919</text><text x="632" y="1212">Z22SE</text>
<rect class="b" x="611" y="1214" width="18" height="9"/><text x="613" y="1221">3118</text><text x="632" y="1221">Y17DIT</text>
<rect class="b" x="611" y="1223" width="18" height="9"/><text x="613" y="1230">3218</text><text x="632" y="1230">PSG5</text>
<rect class="b" x="611" y="1232" width="18" height="9"/><text x="613" y="1239">3424</text><text x="632" y="1239">PSG16</text>
</g>

<polyline points="731,1008 781,1008 781,1086"/><circle cx="731" cy="1008" r="1.4" fill="#222"/>
<line x1="805" y1="1018" x2="897" y2="1018"/><line x1="897" y1="1018" x2="897" y2="1078"/>
<circle cx="805" cy="1018" r="1.4" fill="#222"/><circle cx="860" cy="1018" r="1.4" fill="#222"/>
<line x1="860" y1="1018" x2="860" y2="1172"/>
<circle cx="713" cy="1267" r="1.3" fill="#222"/>
<g class="v">
<text transform="translate(728,1048) rotate(-90)">BUBK 0.5</text>
<text transform="translate(728,1120) rotate(-90)">BUBK 0.75</text>
<text transform="translate(728,1180) rotate(-90)">BNWH 0.75</text>
<text transform="translate(728,1247) rotate(-90)">BNWH 0.5</text>
<text transform="translate(728,1310) rotate(-90)">BNWH 0.5</text>
<text transform="translate(710,1307) rotate(-90)">BN 2.5</text>
<text transform="translate(778,1055) rotate(-90)">BU 0.35</text>
<text transform="translate(802,1055) rotate(-90)">GN 0.35</text>
<text transform="translate(857,1050) rotate(-90)">GN 0.35/0.5</text>
<text transform="translate(894,1055) rotate(-90)">GN 0.5</text>
<text transform="translate(857,1140) rotate(-90)">GN 0.5/0.75</text>
</g>
<use href="#con" x="731" y="1024"/><text x="736" y="1016" class="m">X1</text><text x="736" y="1035" class="s">15</text>
<use href="#con" x="731" y="1081"/><text x="736" y="1075" class="m">X11</text><text x="736" y="1093" class="s">D</text>
<use href="#con" x="731" y="1209"/><text x="736" y="1203" class="m">X11</text><text x="736" y="1221" class="s">C</text>
<use href="#con" x="731" y="1280"/><text x="736" y="1271" class="m">X1</text><text x="736" y="1292" class="s">9</text>
<rect class="b" x="728" y="1140" width="6" height="17"/><line x1="722" y1="1140" x2="737" y2="1154"/>
<text x="741" y="1158" class="m">P5</text><text x="735" y="1137" class="s">D</text><text x="735" y="1166" class="s">C</text>
<g class="s"><text x="716" y="1330">4</text><text x="734" y="1330">4</text></g>
<line x1="704" y1="1336" x2="740" y2="1336"/><circle cx="713" cy="1336" r="1.3" fill="#222"/><circle cx="731" cy="1336" r="1.3" fill="#222"/>
<use href="#con" x="860" y="1090"/><text x="865" y="1084" class="m">X2</text><text x="865" y="1102" class="s">63</text>
<g class="s">
<rect class="b" x="796" y="1076" width="18" height="9"/><text x="798" y="1083">5018</text><text x="817" y="1083">ECC</text>
<rect class="b" x="778" y="1085" width="18" height="9"/><text x="780" y="1092">4317</text>
<rect class="b" x="796" y="1085" width="18" height="9"/><text x="798" y="1092">4318</text><text x="817" y="1092">MID</text>
<rect class="b" x="778" y="1094" width="18" height="9"/><text x="780" y="1101">4417</text>
<rect class="b" x="796" y="1094" width="18" height="9"/><text x="798" y="1101">4418</text><text x="817" y="1101">CID/GID</text>
<rect class="b" x="778" y="1103" width="18" height="9"/><text x="780" y="1110">2036</text><text x="799" y="1110">Z12XE</text>
<rect class="b" x="778" y="1112" width="18" height="9"/><text x="780" y="1119">2129</text><text x="799" y="1119">Y14XE/Z16XE</text>
<rect class="b" x="778" y="1121" width="18" height="9"/><text x="780" y="1128">2407</text><text x="799" y="1128">Z16SE</text>
<rect class="b" x="778" y="1130" width="18" height="9"/><text x="780" y="1137">2535</text><text x="799" y="1137">Z18XE</text>
<rect class="b" x="778" y="1139" width="18" height="9"/><text x="780" y="1146">2708</text><text x="799" y="1146">Z20LET</text>
<rect class="b" x="778" y="1148" width="18" height="9"/><text x="780" y="1155">2915</text><text x="799" y="1155">Z22SE</text>
<rect class="b" x="888" y="1078" width="18" height="9"/><text x="890" y="1085">4723</text><text x="909" y="1085">D</text>
<rect class="b" x="888" y="1087" width="18" height="9"/><text x="890" y="1094">4528</text><text x="909" y="1094">X16XEL</text><text x="892" y="1105">AT</text>
<rect class="b" x="851" y="1172" width="18" height="9"/><text x="853" y="1179">2039</text><text x="872" y="1179">Z12XE</text>
<rect class="b" x="851" y="1181" width="18" height="9"/><text x="853" y="1188">2132</text><text x="872" y="1188">Y14XE/Z16XE</text>
<rect class="b" x="851" y="1190" width="18" height="9"/><text x="853" y="1197">2310</text><text x="872" y="1197">X16XEL</text>
<rect class="b" x="851" y="1199" width="18" height="9"/><text x="853" y="1206">2410</text><text x="872" y="1206">Z16SE</text>
<rect class="b" x="851" y="1208" width="18" height="9"/><text x="853" y="1215">2538</text><text x="872" y="1215">Z18XE</text>
<rect class="b" x="851" y="1217" width="18" height="9"/><text x="853" y="1224">2711</text><text x="872" y="1224">Z20LET</text>
<rect class="b" x="851" y="1226" width="18" height="9"/><text x="853" y="1233">2921</text><text x="872" y="1233">Z22SE</text>
<rect class="b" x="851" y="1235" width="18" height="9"/><text x="853" y="1242">3120</text><text x="872" y="1242">Y17DIT</text>
<rect class="b" x="851" y="1244" width="18" height="9"/><text x="853" y="1251">3220</text><text x="872" y="1251">PSG5</text>
<rect class="b" x="851" y="1253" width="18" height="9"/><text x="853" y="1260">3421</text><text x="872" y="1260">PSG16</text>
</g>

<g style="font-size:10px" text-anchor="middle" fill="#333">
<text x="30" y="1341">1600</text><text x="48.5" y="1341">1</text><text x="67" y="1341">2</text><text x="85.5" y="1341">3</text><text x="104" y="1341">4</text><text x="122.5" y="1341">5</text><text x="141" y="1341">6</text><text x="159.5" y="1341">7</text><text x="178" y="1341">8</text><text x="196.5" y="1341">9</text>
<text x="215" y="1341">1610</text><text x="233.5" y="1341">1</text><text x="252" y="1341">2</text><text x="270.5" y="1341">3</text><text x="289" y="1341">4</text><text x="307.5" y="1341">5</text><text x="326" y="1341">6</text><text x="344.5" y="1341">7</text><text x="363" y="1341">8</text><text x="381.5" y="1341">9</text>
<text x="400" y="1341">1620</text><text x="418.5" y="1341">1</text><text x="437" y="1341">2</text><text x="455.5" y="1341">3</text><text x="474" y="1341">4</text><text x="492.5" y="1341">5</text><text x="511" y="1341">6</text><text x="529.5" y="1341">7</text><text x="548" y="1341">8</text><text x="566.5" y="1341">9</text>
<text x="585" y="1341">1630</text><text x="603.5" y="1341">1</text><text x="622" y="1341">2</text><text x="640.5" y="1341">3</text><text x="659" y="1341">4</text><text x="677.5" y="1341">5</text><text x="696" y="1341">6</text><text x="714.5" y="1341">7</text><text x="733" y="1341">8</text><text x="751.5" y="1341">9</text>
<text x="770" y="1341">1640</text><text x="788.5" y="1341">1</text><text x="807" y="1341">2</text><text x="825.5" y="1341">3</text><text x="844" y="1341">4</text><text x="862.5" y="1341">5</text><text x="881" y="1341">6</text><text x="899.5" y="1341">7</text><text x="918" y="1341">8</text><text x="936.5" y="1341">9</text>
</g>
<polyline points="48,1371 48,1378 456,1378"/><polyline points="551,1378 938,1378 938,1371"/>
<g class="s"><text x="473" y="1377">INSTRUMENT</text><text x="473" y="1386">INSTRUMENT</text><text x="521" y="1382">(INS)</text></g>
</g>
</svg>
</body></html>
